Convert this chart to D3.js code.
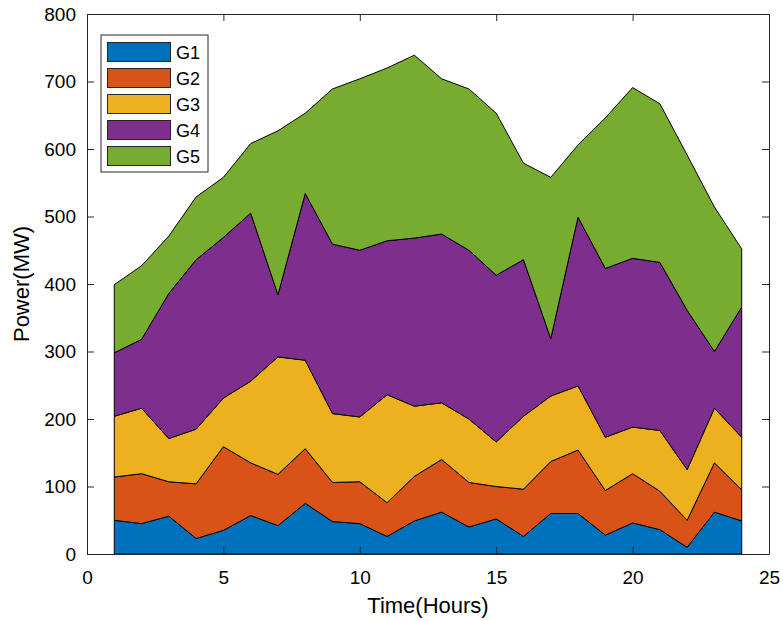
<!DOCTYPE html>
<html>
<head>
<meta charset="utf-8">
<script src="https://cdn.jsdelivr.net/npm/d3@7"></script>
<style>
  body { margin: 0; background: #fff; }
  text { font-family: "Liberation Sans", Arial, sans-serif; }
</style>
</head>
<body>
<div id="chart"></div>
<script>
// hours and generator outputs (MW)
var hours = d3.range(1, 25);
var g1 = [50, 45, 56, 23, 35, 57, 42, 75, 48, 45, 26, 49, 62, 40, 52, 26, 60, 60, 28, 46, 36, 10, 62, 49];
var g2 = [64, 74, 51, 81, 124, 78, 76, 81, 58, 62, 50, 66, 78, 66, 48, 70, 77, 94, 66, 73, 57, 40, 73, 46];
var g3 = [90, 97, 64, 81, 72, 121, 174, 131, 102, 96, 160, 104, 84, 94, 66, 108, 97, 95, 79, 69, 90, 75, 81, 78];
var g4 = [94, 102, 215, 251, 238, 249, 92, 247, 251, 247, 228, 249, 250, 250, 247, 232, 85, 250, 250, 250, 249, 236, 84, 193];
var g5 = [101, 109, 85, 93, 89, 103, 243, 119, 230, 254, 256, 271, 230, 239, 240, 143, 239, 107, 223, 253, 235, 230, 214, 86];

var names = ["G1", "G2", "G3", "G4", "G5"];
var colors = ["#0072BD", "#D95319", "#EDB120", "#7E2F8E", "#77AC30"];
var xTicks = [0, 5, 10, 15, 20, 25];
var yTicks = d3.range(0, 801, 100);

var marginLeft = 87, marginTop = 14;
var width = 682, height = 540;

var series = [g1, g2, g3, g4, g5];
var rows = hours.map(function(h, i) {
  var r = { hour: h };
  names.forEach(function(n, k) { r[n] = series[k][i]; });
  return r;
});

var svg = d3.select('#chart')
  .append('svg')
  .attr('width', 783)
  .attr('height', 621)
  .append('g')
  .attr('transform', 'translate(' + marginLeft + ',' + marginTop + ')');

var x = d3.scaleLinear().domain([0, 25]).range([0, width]);
var y = d3.scaleLinear().domain([0, 800]).range([height, 0]);

var stacked = d3.stack().keys(names)(rows);

var area = d3.area()
  .x(d => x(d.data.hour))
  .y0(d => y(d[0]))
  .y1(d => y(d[1]));

svg.selectAll('path.layer')
  .data(stacked)
  .enter()
  .append('path')
  .attr('class', 'layer')
  .attr('fill', (d, i) => colors[i])
  .attr('stroke', '#000')
  .attr('stroke-width', 1)
  .attr('d', area);

// axes, ticks pointing inward like MATLAB
function styleAxis(g) {
  g.select('.domain').attr('stroke', '#262626');
  g.selectAll('.tick line').attr('stroke', '#262626');
  g.selectAll('.tick text')
    .attr('fill', '#000')
    .style('font-size', '19px');
}

svg.append('g')
  .attr('transform', 'translate(0,' + height + ')')
  .call(d3.axisBottom(x).tickValues(xTicks).tickSize(-7).tickSizeOuter(0).tickPadding(17))
  .call(styleAxis);

svg.append('g')
  .call(d3.axisTop(x).tickValues(xTicks).tickSize(-7).tickSizeOuter(0).tickFormat(''))
  .call(styleAxis);

svg.append('g')
  .call(d3.axisLeft(y).tickValues(yTicks).tickSize(-7).tickSizeOuter(0).tickPadding(11))
  .call(styleAxis);

svg.append('g')
  .attr('transform', 'translate(' + width + ',0)')
  .call(d3.axisRight(y).tickValues(yTicks).tickSize(-7).tickSizeOuter(0).tickFormat(''))
  .call(styleAxis);

// axis labels
svg.append('text')
  .attr('x', width / 2)
  .attr('y', height + 59)
  .attr('text-anchor', 'middle')
  .style('font-size', '22px')
  .text('Time(Hours)');

svg.append('text')
  .attr('transform', 'rotate(-90)')
  .attr('x', -height / 2)
  .attr('y', -marginLeft + 29)
  .attr('text-anchor', 'middle')
  .style('font-size', '22px')
  .text('Power(MW)');

// legend
var legend = svg.append('g')
  .attr('transform', 'translate(' + (101 - marginLeft) + ',' + (35 - marginTop) + ')');

legend.append('rect')
  .attr('width', 107)
  .attr('height', 137)
  .attr('fill', '#fff')
  .attr('stroke', '#262626')
  .attr('stroke-width', 1);

names.forEach(function(n, i) {
  legend.append('rect')
    .attr('x', 6.5)
    .attr('y', 7.5 + i * 26)
    .attr('width', 63)
    .attr('height', 19)
    .attr('fill', colors[i])
    .attr('stroke', '#262626')
    .attr('stroke-width', 1);
  legend.append('text')
    .attr('x', 75)
    .attr('y', 24 + i * 26)
    .style('font-size', '18px')
    .text(n);
});
</script>
</body>
</html>
